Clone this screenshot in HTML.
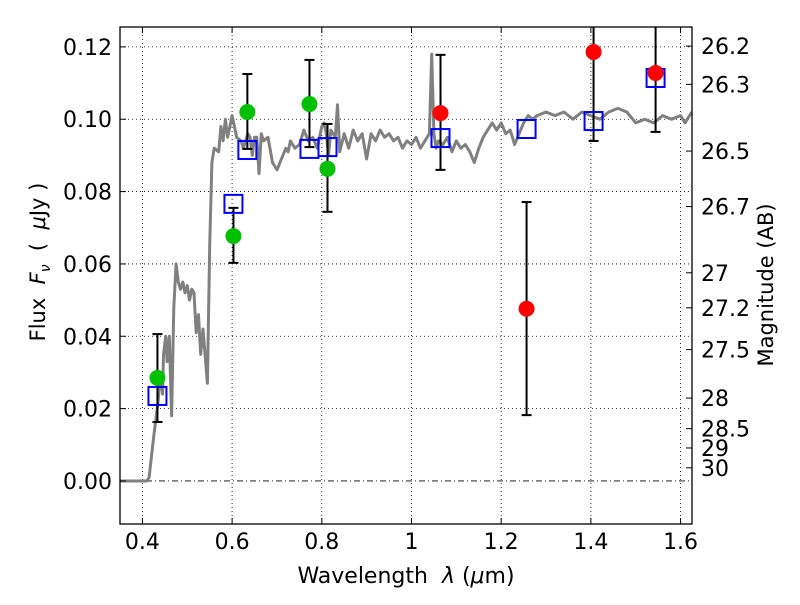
<!DOCTYPE html>
<html><head><meta charset="utf-8"><style>
body{margin:0;background:#fff}
svg text{font-family:"DejaVu Sans","Liberation Sans",sans-serif;fill:#000}
</style></head><body>
<svg id="chart" width="800" height="600" xmlns="http://www.w3.org/2000/svg">
<g id="grid"></g>
<g id="plot"></g>
<g id="axes"></g>
<text x="406" y="583" font-size="22" text-anchor="middle" xml:space="preserve">Wavelength  <tspan font-style="italic">λ</tspan> (<tspan font-style="italic">μ</tspan>m)</text>
<text transform="translate(45,262) rotate(-90)" font-size="21" text-anchor="middle" xml:space="preserve">Flux  <tspan font-style="italic">F</tspan><tspan font-style="italic" font-size="14" dy="5">ν</tspan><tspan dy="-5">  (  </tspan><tspan font-style="italic">μ</tspan>Jy )</text>
<text transform="translate(773,285) rotate(-90)" font-size="21" text-anchor="middle">Magnitude (AB)</text>
</svg>
<script>
const xTicks=[0.4,0.6,0.8,1.0,1.2,1.4,1.6];
const xTickLabels=["0.4","0.6","0.8","1","1.2","1.4","1.6"];
const yTicks=[0,0.02,0.04,0.06,0.08,0.10,0.12];
const yTickLabels=["0.00","0.02","0.04","0.06","0.08","0.10","0.12"];
const magTicks=[26.2,26.3,26.5,26.7,27,27.2,27.5,28,28.5,29,30];
const magTickLabels=["26.2","26.3","26.5","26.7","27","27.2","27.5","28","28.5","29","30"];
const specWave=[0.35,0.41,0.415,0.425,0.435,0.44,0.445,0.447,0.452,0.455,0.46,0.465,0.47,0.475,0.48,0.485,0.49,0.495,0.5,0.505,0.51,0.515,0.52,0.525,0.53,0.535,0.545,0.55,0.555,0.56,0.57,0.575,0.58,0.585,0.59,0.595,0.6,0.605,0.61,0.62,0.625,0.63,0.635,0.64,0.645,0.65,0.655,0.66,0.665,0.67,0.68,0.69,0.7,0.71,0.72,0.725,0.73,0.74,0.75,0.76,0.77,0.78,0.79,0.8,0.805,0.81,0.815,0.82,0.83,0.835,0.84,0.85,0.86,0.87,0.88,0.89,0.9,0.91,0.92,0.93,0.94,0.95,0.96,0.97,0.98,0.99,1.0,1.01,1.02,1.03,1.04,1.045,1.05,1.055,1.06,1.07,1.08,1.09,1.1,1.11,1.12,1.13,1.14,1.15,1.16,1.17,1.18,1.19,1.2,1.21,1.22,1.23,1.24,1.25,1.26,1.27,1.28,1.3,1.32,1.34,1.36,1.38,1.4,1.42,1.44,1.46,1.48,1.5,1.52,1.54,1.56,1.58,1.6,1.61,1.625];
const specFlux=[0,0,0.001,0.012,0.022,0.03,0.024,0.035,0.04,0.033,0.04,0.018,0.048,0.06,0.055,0.053,0.055,0.052,0.054,0.05,0.053,0.052,0.041,0.046,0.035,0.042,0.027,0.065,0.088,0.092,0.091,0.098,0.094,0.1,0.095,0.098,0.101,0.098,0.095,0.094,0.092,0.094,0.096,0.095,0.09,0.095,0.095,0.085,0.096,0.094,0.095,0.088,0.086,0.089,0.092,0.091,0.094,0.092,0.093,0.097,0.094,0.095,0.092,0.098,0.099,0.096,0.09,0.097,0.095,0.104,0.091,0.096,0.092,0.097,0.094,0.096,0.089,0.096,0.094,0.097,0.095,0.096,0.094,0.095,0.092,0.094,0.093,0.095,0.092,0.094,0.096,0.118,0.096,0.092,0.094,0.093,0.095,0.091,0.094,0.092,0.093,0.091,0.088,0.092,0.095,0.097,0.099,0.097,0.099,0.096,0.097,0.093,0.096,0.099,0.101,0.1,0.101,0.102,0.101,0.102,0.1,0.102,0.101,0.1,0.102,0.103,0.102,0.099,0.1,0.099,0.101,0.1,0.101,0.099,0.102];
const greenWave=[0.4335,0.603,0.634,0.7725,0.8127];
const greenFlux=[0.0285,0.0677,0.102,0.1042,0.0863];
const greenLo=[0.0163,0.0603,0.0918,0.0923,0.0744];
const greenHi=[0.0406,0.0755,0.1125,0.1164,0.0987];
const redWave=[1.0647,1.2566,1.406,1.5443];
const redFlux=[0.1017,0.0476,0.1186,0.1128];
const redLo=[0.086,0.0182,0.094,0.0965];
const redHi=[0.1178,0.0771,0.143,0.129];
const modelWave=[0.4335,0.603,0.634,0.7725,0.8127,1.0647,1.2566,1.406,1.5443];
const modelFlux=[0.0235,0.0766,0.0915,0.0918,0.0923,0.0948,0.0973,0.0995,0.1114];

const L=120,R=692,T=27,B=524,xmin=0.35,xmax=1.6255,ymin=-0.0119,ymax=0.1255;
const X=v=>L+(v-xmin)/(xmax-xmin)*(R-L);
const Y=v=>B-(v-ymin)/(ymax-ymin)*(B-T);
const NS="http://www.w3.org/2000/svg";
function mk(tag,attrs,parent){const e=document.createElementNS(NS,tag);for(const k in attrs)e.setAttribute(k,attrs[k]);parent.appendChild(e);return e;}
const grid=document.getElementById('grid'),plot=document.getElementById('plot'),axes=document.getElementById('axes');
const svg=document.getElementById('chart');
const defs=mk('defs',{},svg);const cp=mk('clipPath',{id:'clip'},defs);mk('rect',{x:L,y:T,width:R-L,height:B-T},cp);
plot.setAttribute('clip-path','url(#clip)');
xTicks.forEach((v,i)=>{
 const g=mk('line',{x1:X(v),x2:X(v),y1:T,y2:B,stroke:'#000','stroke-width':0.8,'stroke-dasharray':'1,3'},grid);
 
 mk('line',{x1:X(v),x2:X(v),y1:B,y2:B-6,stroke:'#000'},axes);
 mk('line',{x1:X(v),x2:X(v),y1:T,y2:T+6,stroke:'#000'},axes);
 const t=mk('text',{x:X(v),y:B+25,'font-size':22,'text-anchor':'middle'},axes);t.textContent=xTickLabels[i];
 
});
yTicks.forEach((v,i)=>{
 const g=mk('line',{x1:L,x2:R,y1:Y(v),y2:Y(v),stroke:'#000','stroke-width':0.8,'stroke-dasharray':v===0?'6,3,1,3':'1,3'},grid);
 
 mk('line',{x1:L,x2:L+6,y1:Y(v),y2:Y(v),stroke:'#000'},axes);
 const t=mk('text',{x:L-8,y:Y(v)+8,'font-size':22,'text-anchor':'end'},axes);t.textContent=yTickLabels[i];
 
});
magTicks.forEach((m,i)=>{
 const f=Math.pow(10,(23.9-m)/2.5);const y=Y(f);
 mk('line',{x1:R,x2:R-6,y1:y,y2:y,stroke:'#000'},axes);
 const t=mk('text',{x:R+9,y:y+8,'font-size':22},axes);t.textContent=magTickLabels[i];
 
});
let d='';specWave.forEach((w,i)=>{d+=(i?'L':'M')+X(w).toFixed(1)+','+Y(specFlux[i]).toFixed(1);});
const sp=mk('path',{d:d,fill:'none',stroke:'#808080','stroke-width':3,'stroke-linejoin':'round'},plot);

function errs(w,lo,hi,name){w.forEach((v,i)=>{const x=X(v);
 const e=mk('g',{},plot);
 mk('line',{x1:x,x2:x,y1:Y(lo[i]),y2:Y(hi[i]),stroke:'#000','stroke-width':2},e);
 mk('line',{x1:x-5,x2:x+5,y1:Y(lo[i]),y2:Y(lo[i]),stroke:'#000','stroke-width':2},e);
 mk('line',{x1:x-5,x2:x+5,y1:Y(hi[i]),y2:Y(hi[i]),stroke:'#000','stroke-width':2},e);});}
errs(greenWave,greenLo,greenHi,'green-errorbar');errs(redWave,redLo,redHi,'red-errorbar');
modelWave.forEach((w,i)=>{const r=mk('rect',{x:X(w)-9,y:Y(modelFlux[i])-9,width:18,height:18,fill:'none',stroke:'#0000ff','stroke-width':2},plot);
 });
greenWave.forEach((w,i)=>{const c=mk('circle',{cx:X(w),cy:Y(greenFlux[i]),r:8,fill:'#00c000'},plot);
 });
redWave.forEach((w,i)=>{const c=mk('circle',{cx:X(w),cy:Y(redFlux[i]),r:8,fill:'#ff0000'},plot);
 });
const fr=mk('rect',{x:L,y:T,width:R-L,height:B-T,fill:'none',stroke:'#000','stroke-width':1.3},axes);

</script>
</body></html>
